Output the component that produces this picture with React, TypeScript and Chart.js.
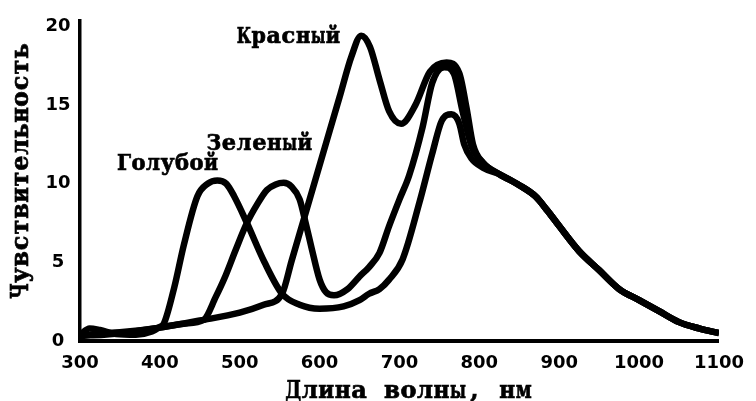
import React, { useEffect, useRef } from "react";
import { Chart, registerables } from "chart.js";

Chart.register(...registerables);

// Axis ticks
const xTicks = [300, 400, 500, 600, 700, 800, 900, 1000, 1100];
const yTicks = [0, 5, 10, 15, 20];

// Texts
const xTitle = "Длина волны, нм";
const yTitle = "Чувствительность";

// Красный (red)
const redX = [300, 320, 350, 400, 450, 500, 530, 553, 565, 580, 595, 610, 625, 640, 652, 663, 675, 687, 702, 720, 738, 759, 775, 784, 792, 805, 825, 850, 870, 885, 900, 925, 950, 975, 1000, 1025, 1050, 1075, 1100];
const redY = [0.3, 0.45, 0.55, 0.85, 1.3, 1.8, 2.3, 3.0, 5.1, 7.7, 10.3, 12.9, 15.5, 18.1, 19.4, 18.7, 16.6, 14.6, 13.8, 15.0, 17.1, 17.7, 17.0, 14.8, 12.5, 11.3, 10.6, 9.9, 9.2, 8.3, 7.3, 5.7, 4.5, 3.3, 2.6, 1.9, 1.2, 0.8, 0.5];

// Зеленый (green)
const greenX = [300, 330, 360, 400, 430, 455, 470, 481, 495, 509, 522, 534, 545, 555, 565, 575, 583, 590, 600, 608, 618, 635, 650, 662, 675, 687, 700, 712, 729, 741, 756, 768, 779, 790, 805, 825, 850, 870, 885, 900, 925, 950, 975, 1000, 1025, 1050, 1075, 1100];
const greenY = [0.35, 0.4, 0.55, 0.85, 1.1, 1.35, 2.8, 4.0, 5.8, 7.5, 8.7, 9.6, 9.95, 10.05, 9.8, 9.0, 7.4, 5.9, 3.9, 3.1, 2.9, 3.3, 4.1, 4.7, 5.6, 7.3, 9.0, 10.5, 13.6, 16.4, 17.4, 17.0, 14.6, 12.4, 11.3, 10.6, 9.9, 9.2, 8.3, 7.3, 5.7, 4.5, 3.3, 2.6, 1.9, 1.2, 0.8, 0.5];

// Голубой (blue)
const blueX = [300, 312, 325, 345, 370, 390, 400, 405, 418, 430, 447, 460, 472, 483, 493, 509, 531, 553, 575, 600, 630, 650, 662, 675, 687, 704, 725, 741, 753, 765, 775, 781, 790, 805, 825, 850, 870, 885, 900, 925, 950, 975, 1000, 1025, 1050, 1075, 1100];
const blueY = [0.4, 0.8, 0.7, 0.45, 0.4, 0.6, 0.9, 1.1, 3.4, 6.1, 9.2, 10.0, 10.2, 10.0, 9.2, 7.5, 5.0, 3.0, 2.3, 2.05, 2.2, 2.6, 3.0, 3.3, 3.9, 5.2, 8.8, 11.9, 14.0, 14.4, 13.8, 12.5, 11.6, 11.0, 10.6, 9.9, 9.2, 8.3, 7.3, 5.7, 4.5, 3.3, 2.6, 1.9, 1.2, 0.8, 0.5];

// Curve labels: text, start / end wavelength of the text, baseline value
const labelTexts = ["Красный", "Зеленый", "Голубой"];
const labelX0 = [496, 458, 346];
const labelX1 = [626, 591, 473];
const labelY = [18.94, 12.13, 10.88];

const toPoints = (xs: number[], ys: number[]) => xs.map((x, i) => ({ x, y: ys[i] }));

// Draws text as evenly spaced (typewriter-like) characters between x0 and x1
function drawMono(c: CanvasRenderingContext2D, text: string, x0: number, x1: number, baseline: number) {
  const n = text.length;
  const cw = (x1 - x0) / n;
  c.textAlign = "center";
  c.textBaseline = "alphabetic";
  c.lineWidth = 0.7;
  c.strokeStyle = "#000";
  for (let i = 0; i < n; i++) {
    const ch = text[i];
    if (ch === " ") continue;
    const w = c.measureText(ch).width;
    const s = Math.min(1, (cw * 0.97) / w);
    c.save();
    c.translate(x0 + cw * (i + 0.5), baseline);
    c.scale(s, 1);
    c.fillText(ch, 0, 0);
    c.strokeText(ch, 0, 0);
    c.restore();
  }
}

export default function App() {
  const ref = useRef<HTMLCanvasElement>(null);

  useEffect(() => {
    document.body.style.margin = "0";
    const canvas = ref.current!;

    const textPlugin = {
      id: "texts",
      afterDraw(chart: any) {
        const c = chart.ctx as CanvasRenderingContext2D;
        const xs = chart.scales.x;
        const ys = chart.scales.y;
        c.save();
        c.fillStyle = "#000";
        c.font = "bold 22.5px 'DejaVu Serif'";
        labelTexts.forEach((t, i) => {
          drawMono(c, t, xs.getPixelForValue(labelX0[i]), xs.getPixelForValue(labelX1[i]), ys.getPixelForValue(labelY[i]));
        });
        c.font = "bold 24px 'DejaVu Serif'";
        drawMono(c, xTitle, 285, 532, 398);
        c.translate(28, 0);
        c.rotate(-Math.PI / 2);
        drawMono(c, yTitle, -299, -43, 0);
        c.restore();
      },
    };

    const lineStyle = {
      borderColor: "#000",
      borderWidth: 6.5,
      pointRadius: 0,
      fill: false,
      cubicInterpolationMode: "monotone" as const,
      borderJoinStyle: "round" as const,
    };

    const tickFont = { family: "'DejaVu Sans'", size: 18, weight: "bold" as const };

    const chart = new Chart(canvas, {
      type: "line",
      data: {
        datasets: [
          { label: "Красный", data: toPoints(redX, redY), ...lineStyle },
          { label: "Зеленый", data: toPoints(greenX, greenY), ...lineStyle },
          { label: "Голубой", data: toPoints(blueX, blueY), ...lineStyle },
        ],
      },
      options: {
        responsive: false,
        animation: false,
        devicePixelRatio: 1,
        layout: { padding: { top: 15, right: 37, left: 0, bottom: 0 } },
        plugins: { legend: { display: false }, tooltip: { enabled: false } },
        scales: {
          x: {
            type: "linear",
            min: 300,
            max: 1100,
            afterFit: (s: any) => { s.height = 60; },
            afterBuildTicks: (s: any) => { s.ticks = xTicks.map((v) => ({ value: v })); },
            grid: { display: false, drawTicks: false },
            border: { display: true, color: "#000", width: 4 },
            ticks: {
              color: "#000",
              font: tickFont,
              padding: 12,
              autoSkip: false,
              maxRotation: 0,
              callback: (v: any) => String(v),
            },
          },
          y: {
            type: "linear",
            min: 0,
            max: 20.375,
            afterFit: (s: any) => { s.width = 80; },
            afterBuildTicks: (s: any) => { s.ticks = yTicks.map((v) => ({ value: v })); },
            grid: { display: false, drawTicks: false },
            border: { display: true, color: "#000", width: 3.5 },
            ticks: {
              color: "#000",
              font: tickFont,
              padding: 9.5,
              crossAlign: "center",
              callback: (v: any) => String(v),
            },
          },
        },
      },
      plugins: [textPlugin],
    });

    return () => chart.destroy();
  }, []);

  return (
    <div style={{ width: 756, height: 401, background: "#fff" }}>
      <canvas ref={ref} width={756} height={401} style={{ display: "block" }} />
    </div>
  );
}
